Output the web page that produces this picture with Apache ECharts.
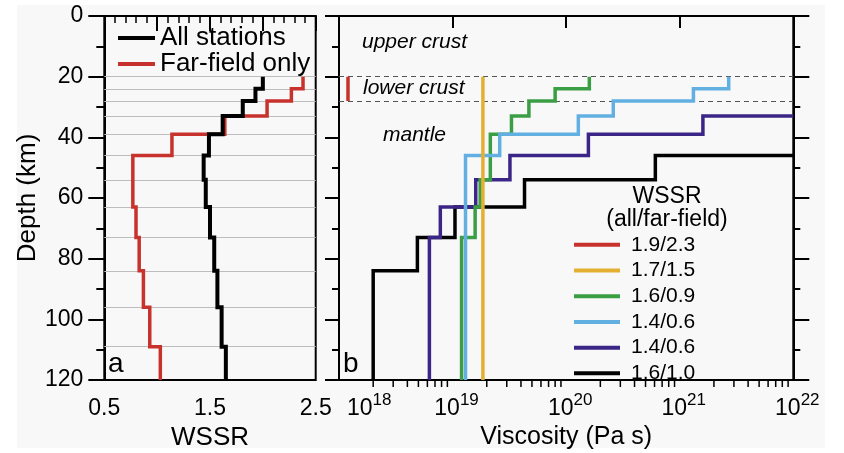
<!DOCTYPE html>
<html><head><meta charset="utf-8">
<script src="https://cdn.jsdelivr.net/npm/echarts@6/dist/echarts.min.js"></script>
<style>html,body{margin:0;padding:0;background:#fff;}#c{width:844px;height:453px;}</style>
</head><body><div id="c"></div>
<script>
// ---- data ----
const depthBounds = [20, 24, 28, 33, 39, 46, 54, 63, 73, 84, 96, 109, 120];
// Panel a: WSSR per layer
const wssrAll = [2.00, 1.93, 1.81, 1.62, 1.49, 1.44, 1.46, 1.50, 1.54, 1.57, 1.61, 1.65];
const wssrFar = [2.38, 2.27, 2.04, 1.64, 1.14, 0.77, 0.77, 0.80, 0.83, 0.87, 0.93, 1.03];
// Panel b: viscosity per layer (Pa s), null = not drawn
const viscRed    = [1.2e18, 1.2e18, null, null, null, null, null, null, null, null, null, null];
const viscOrange = [1.85e19, 1.85e19, 1.85e19, 1.85e19, 1.85e19, 1.85e19, 1.85e19, 1.85e19, 1.85e19, 1.85e19, 1.85e19, 1.85e19];
const viscGreen  = [1.6e20, 8.0e19, 4.7e19, 3.3e19, 2.15e19, 2.15e19, 1.75e19, 1.58e19, 1.2e19, 1.2e19, 1.2e19, 1.2e19];
const viscBlue   = [2.7e21, 1.32e21, 2.6e20, 1.28e20, 2.6e19, 1.3e19, 1.3e19, 1.3e19, 1.3e19, 1.3e19, 1.3e19, 1.3e19];
const viscPurple = [null, null, null, 1.6e21, 1.57e20, 3.2e19, 1.6e19, 7.8e18, 6.25e18, 6.25e18, 6.25e18, 6.25e18];
const viscBlack  = [null, null, null, null, null, 6.1e20, 4.3e19, 1.05e19, 4.9e18, 2.0e18, 2.0e18, 2.0e18];
const legendA = ['All stations', 'Far-field only'];
const legendB = ['1.9/2.3', '1.7/1.5', '1.6/0.9', '1.4/0.6', '1.4/0.6 ', '1.6/1.0'];
const wssrTickLabels = ['0.5', '1.5', '2.5'];
const minorMultipliers = [2, 3, 4, 5, 6, 7, 8, 9];
const decades = [18, 19, 20, 21];
const viscMin = 1e18, viscMax = 1e22;

// ---- helpers ----
function steps(vals, fromEdge) {
  const pts = [];
  const push = p => { const q = pts[pts.length - 1]; if (!q || q[0] !== p[0] || q[1] !== p[1]) pts.push(p); };
  vals.forEach((v, i) => {
    if (v == null) return;
    if (fromEdge && pts.length === 0) push([viscMax, depthBounds[i]]);
    push([v, depthBounds[i]]); push([v, depthBounds[i + 1]]);
  });
  const out = [];
  pts.forEach(p => {
    const n = out.length;
    if (n >= 2 && out[n - 1][0] === p[0] && out[n - 2][0] === p[0]) out[n - 1] = p; else out.push(p);
  });
  return out;
}
const minorVisc = [];
decades.forEach(d => minorMultipliers.forEach(m => minorVisc.push(m * Math.pow(10, d))));

const FONT = '"Liberation Sans", Arial, Helvetica, sans-serif';
const C = {red:'#c8322c', orange:'#e4b032', green:'#3a9e44', blue:'#62b0e2', purple:'#3b2687', black:'#000'};

const yAxisBase = {
  type: 'value', inverse: true, min: 0, max: 120, interval: 20,
  axisLine: {show: true, lineStyle: {color: '#000', width: 2}},
  axisTick: {show: true, inside: false, length: 16, lineStyle: {color: '#000', width: 2}},
  minorTick: {show: true, splitNumber: 2, length: 8, lineStyle: {color: '#000', width: 2}},
  splitLine: {show: false}, minorSplitLine: {show: false},
  axisLabel: {show: false}
};

const chart = echarts.init(document.getElementById('c'), null, {renderer: 'canvas'});
const lineS = (name, data, color, width, xi, yi, z) => ({
  name, type: 'line', data, xAxisIndex: xi, yAxisIndex: yi, symbol: 'none', showSymbol: false,
  lineStyle: {color, width, opacity: 1, cap: 'butt', join: 'miter'}, itemStyle: {color}, z, animation: false, silent: true,
  emphasis: {disabled: true}, clip: true
});
const legItem = (name, color, h) => ({name, icon: 'rect', itemStyle: {color}, itemHeight: h});

chart.setOption({
  animation: false,
  textStyle: {fontFamily: FONT},
  graphic: [
    {type: 'rect', shape: {x: 17, y: 5, width: 808, height: 443}, style: {fill: '#f8f8f8'}, z: -10, silent: true},
    {type: 'text', left: 362, top: 32, style: {text: 'upper crust', font: 'italic 21px ' + FONT, fill: '#000'}},
    {type: 'text', left: 363, top: 78, style: {text: 'lower crust', font: 'italic 21px ' + FONT, fill: '#000'}},
    {type: 'text', left: 383, top: 125, style: {text: 'mantle', font: 'italic 21px ' + FONT, fill: '#000'}},
    {type: 'text', left: 108, top: 350, style: {text: 'a', font: '28px ' + FONT, fill: '#000'}},
    {type: 'text', left: 343, top: 350, style: {text: 'b', font: '28px ' + FONT, fill: '#000'}},
    {type: 'text', x: 667, y: 197, style: {text: 'WSSR', font: '23px ' + FONT, fill: '#000', align: 'center', verticalAlign: 'middle'}},
    {type: 'text', x: 667, y: 220, style: {text: '(all/far-field)', font: '23px ' + FONT, fill: '#000', align: 'center', verticalAlign: 'middle'}}
  ],
  grid: [
    {left: 104.3, top: 16, width: 211.4, height: 364, show: true, borderColor: '#000', borderWidth: 2, backgroundColor: 'transparent', outerBoundsMode: 'none', containLabel: false},
    {left: 339, top: 16, width: 454.3, height: 364, show: true, borderColor: '#000', borderWidth: 2, backgroundColor: 'transparent', outerBoundsMode: 'none', containLabel: false}
  ],
  legend: [
    {data: [legItem(legendA[0], C.black, 4), legItem(legendA[1], C.red, 3.5)],
     orient: 'vertical', left: 113, top: 20, itemWidth: 37, itemHeight: 4, itemGap: 0,
     textStyle: {fontSize: 26, color: '#000', lineHeight: 25, fontFamily: FONT}, selectedMode: false},
    {data: [legItem(legendB[0], C.red, 4), legItem(legendB[1], C.orange, 4), legItem(legendB[2], C.green, 4),
            legItem(legendB[3], C.blue, 4), legItem(legendB[4], C.purple, 4), legItem(legendB[5], C.black, 4)],
     orient: 'vertical', left: 569, top: 227, itemWidth: 46, itemHeight: 4, itemGap: 0,
     textStyle: {fontSize: 21, color: '#000', lineHeight: 25.7, fontFamily: FONT, padding: [0, 0, 0, 6]}, selectedMode: false}
  ],
  xAxis: [
    {type: 'value', gridIndex: 0, min: 0.5, max: 2.5, interval: 0.5,
     name: 'WSSR', nameLocation: 'middle', nameGap: 42, nameTextStyle: {fontSize: 26, color: '#000'},
     axisLine: {show: true, lineStyle: {color: '#000', width: 2}},
     axisTick: {show: true, length: 15, lineStyle: {color: '#000', width: 2}},
     minorTick: {show: true, splitNumber: 5, length: 7, lineStyle: {color: '#000', width: 1.5}},
     splitLine: {show: false},
     axisLabel: {fontSize: 23, color: '#000', margin: 17, showMinLabel: true, showMaxLabel: true, hideOverlap: false,
       formatter: v => { const s = v.toFixed(1); return wssrTickLabels.indexOf(s) >= 0 ? s : ''; }}},
    {type: 'log', logBase: 10, gridIndex: 1, min: viscMin, max: viscMax,
     name: 'Viscosity (Pa s)', nameLocation: 'middle', nameGap: 42, nameTextStyle: {fontSize: 25, color: '#000'},
     axisLine: {show: true, lineStyle: {color: '#000', width: 2}},
     axisTick: {show: true, length: 12, lineStyle: {color: '#000', width: 2}},
     minorTick: {show: false}, splitLine: {show: false},
     axisLabel: {color: '#000', margin: 12, showMinLabel: true, showMaxLabel: true, hideOverlap: false, alignMinLabel: 'left',
       formatter: v => { const e = Math.round(Math.log10(v)); return (v === viscMin ? '{b0|10}' : '{b|10}') + '{s|' + e + '}'; },
       rich: {b: {fontSize: 23, color: '#000', verticalAlign: 'bottom', fontFamily: FONT, padding: [0, 0, 0, 8]},
              b0: {fontSize: 23, color: '#000', verticalAlign: 'bottom', fontFamily: FONT},
              s: {fontSize: 17, color: '#000', verticalAlign: 'bottom', padding: [0, 0, 11, 0], fontFamily: FONT}}}}
  ],
  yAxis: [
    Object.assign({}, yAxisBase, {gridIndex: 0, position: 'left',
      name: 'Depth (km)', nameLocation: 'middle', nameGap: 49, nameTextStyle: {fontSize: 26, color: '#000'},
      axisLabel: {show: true, fontSize: 23, color: '#000', margin: 21}}),
    Object.assign({}, yAxisBase, {gridIndex: 1, position: 'left', axisTick: Object.assign({}, yAxisBase.axisTick, {length: 14}), minorTick: Object.assign({}, yAxisBase.minorTick, {length: 7})}),
    Object.assign({}, yAxisBase, {gridIndex: 1, position: 'right', minorTick: Object.assign({}, yAxisBase.minorTick, {length: 7})})
  ],
  series: [
    {type: 'line', xAxisIndex: 0, yAxisIndex: 0, data: [], z: 1, silent: true,
     markLine: {silent: true, z: 1, symbol: 'none', label: {show: false}, animation: false,
       lineStyle: {color: '#bdbdbd', width: 1, type: 'solid'},
       data: depthBounds.slice(0, -1).map(d => ({yAxis: d}))}},
    {type: 'line', xAxisIndex: 1, yAxisIndex: 1, data: [], z: 1, silent: true,
     markLine: {silent: true, z: 1, symbol: 'none', label: {show: false}, animation: false,
       lineStyle: {color: '#555', width: 1.2, type: [5, 4]},
       data: [{yAxis: depthBounds[0]}, {yAxis: depthBounds[2]}]}},
    lineS(legendA[1], steps(wssrFar), C.red, 3.5, 0, 0, 3),
    lineS(legendA[0], steps(wssrAll), C.black, 4, 0, 0, 4),
    lineS(legendB[5], steps(viscBlack, true), C.black, 3.5, 1, 1, 3),
    lineS(legendB[4], steps(viscPurple, true), C.purple, 3.5, 1, 1, 4),
    lineS(legendB[2], steps(viscGreen), C.green, 3.5, 1, 1, 5),
    lineS(legendB[3], steps(viscBlue), C.blue, 3.5, 1, 1, 6),
    lineS(legendB[1], steps(viscOrange), C.orange, 3.5, 1, 1, 7),
    lineS(legendB[0], steps(viscRed), C.red, 3.5, 1, 1, 7),
    {type: 'custom', xAxisIndex: 1, yAxisIndex: 1, clip: false, silent: true, z: 10,
     data: minorVisc.map(v => [v, 120]),
     renderItem: (params, api) => {
       const p = api.coord([api.value(0), api.value(1)]);
       return {type: 'line', shape: {x1: p[0], y1: p[1], x2: p[0], y2: p[1] + 7}, style: {stroke: '#000', lineWidth: 1.5}};
     }}
  ]
});
</script></body></html>
